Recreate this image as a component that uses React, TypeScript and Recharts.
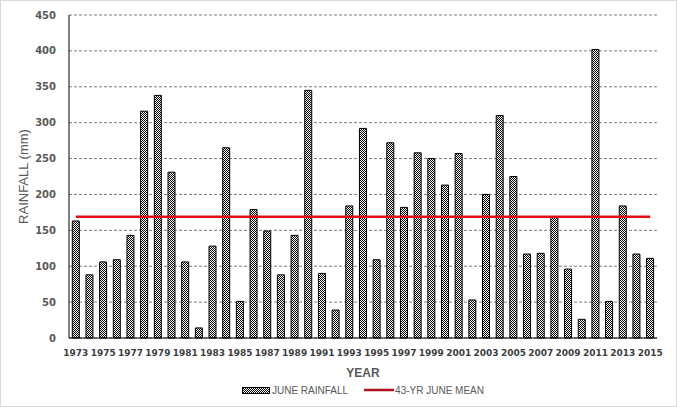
// UI: June rainfall by year, 1973-2015, with the 43-year June mean drawn across the bars.

import {
  Bar,
  CartesianGrid,
  ComposedChart,
  Legend,
  Line,
  XAxis,
  YAxis,
} from "recharts";

const YEARS = [
  "1973", "1974", "1975", "1976", "1977", "1978", "1979", "1980", "1981", "1982",
  "1983", "1984", "1985", "1986", "1987", "1988", "1989", "1990", "1991", "1992",
  "1993", "1994", "1995", "1996", "1997", "1998", "1999", "2000", "2001", "2002",
  "2003", "2004", "2005", "2006", "2007", "2008", "2009", "2010", "2011", "2012",
  "2013", "2014", "2015",
];

const JUNE_RAINFALL = [
  163, 88, 106, 109, 143, 316, 338, 231, 106, 14,
  128, 265, 51, 179, 149, 88, 143, 345, 90, 39,
  184, 292, 109, 272, 182, 258, 250, 213, 257, 53,
  200, 310, 225, 117, 118, 169, 96, 26, 402, 51,
  184, 117, 111,
];

const JUNE_MEAN = 169;

const Y_TICKS = [0, 50, 100, 150, 200, 250, 300, 350, 400, 450];

const data = YEARS.map((year, i) => ({ year, rainfall: JUNE_RAINFALL[i] }));

const MEAN_RED = "#e01010";
const GREY_TEXT = "#595959";

function LegendContent() {
  return (
    <div
      style={{
        display: "flex",
        justifyContent: "center",
        alignItems: "center",
        height: 20,
        fontFamily: "'Liberation Sans', Arial, sans-serif",
        fontSize: 10,
        color: GREY_TEXT,
      }}
    >
      <svg width={28} height={7} style={{ marginRight: 2 }}>
        <rect x={0.5} y={0.5} width={27} height={6} fill="url(#checker)" stroke="#000" />
      </svg>
      <span style={{ marginRight: 16 }}>JUNE RAINFALL</span>
      <svg width={30} height={4} style={{ marginRight: 1 }}>
        <line x1={0} y1={2} x2={30} y2={2} stroke="#b01020" strokeWidth={2.5} />
      </svg>
      <span>43-YR JUNE MEAN</span>
    </div>
  );
}

export default function App() {
  return (
    <div
      style={{
        width: 677,
        height: 407,
        border: "1px solid #d9d9d9",
        boxSizing: "border-box",
        background: "#fff",
      }}
    >
      <style>{"body{margin:0}"}</style>
      <svg width={0} height={0} style={{ position: "absolute" }}>
        <defs>
          <pattern id="checker" width={2} height={2} patternUnits="userSpaceOnUse">
            <rect width={2} height={2} fill="#fff" />
            <rect x={0} y={0} width={1} height={1} fill="#000" />
            <rect x={1} y={1} width={1} height={1} fill="#000" />
          </pattern>
        </defs>
      </svg>
      <ComposedChart
        width={675}
        height={405}
        data={data}
        margin={{ top: 14, right: 19, left: 0, bottom: 6 }}
        barCategoryGap="24%"
      >
        <CartesianGrid
          vertical={false}
          stroke="#7f7f7f"
          strokeDasharray="3 2"
        />
        <XAxis
          dataKey="year"
          interval={1}
          height={42}
          axisLine={{ stroke: "#000" }}
          tickLine={false}
          tickSize={0}
          tickMargin={12}
          tick={{
            fontFamily: "'DejaVu Sans', Verdana, sans-serif",
            fontWeight: "bold",
            fontSize: 9,
            fill: "#404040",
          }}
          label={{
            value: "YEAR",
            position: "insideBottom",
            offset: 3,
            style: {
              fontFamily: "'Liberation Sans', Arial, sans-serif",
              fontWeight: "bold",
              fontSize: 12,
              fill: GREY_TEXT,
            },
          }}
        />
        <YAxis
          width={68}
          domain={[0, 450]}
          ticks={Y_TICKS}
          axisLine={{ stroke: "#000" }}
          tickLine={false}
          tickSize={0}
          tickMargin={13}
          tick={{
            fontFamily: "'DejaVu Sans', Verdana, sans-serif",
            fontWeight: "bold",
            fontSize: 10,
            fill: GREY_TEXT,
          }}
          label={{
            value: "RAINFALL (mm)",
            angle: -90,
            position: "insideLeft",
            offset: 22,
            style: {
              textAnchor: "middle",
              fontFamily: "'Liberation Sans', Arial, sans-serif",
              fontSize: 13,
              fill: GREY_TEXT,
            },
          }}
        />
        <Bar
          dataKey="rainfall"
          name="JUNE RAINFALL"
          fill="url(#checker)"
          stroke="#000"
          strokeWidth={1}
          isAnimationActive={false}
        />
        <Line
          dataKey={() => JUNE_MEAN}
          name="43-YR JUNE MEAN"
          stroke={MEAN_RED}
          strokeWidth={2.5}
          dot={false}
          activeDot={false}
          isAnimationActive={false}
        />
        <Legend
          verticalAlign="bottom"
          height={20}
          wrapperStyle={{ left: 68, width: 588 }}
          content={<LegendContent />}
        />
      </ComposedChart>
    </div>
  );
}
